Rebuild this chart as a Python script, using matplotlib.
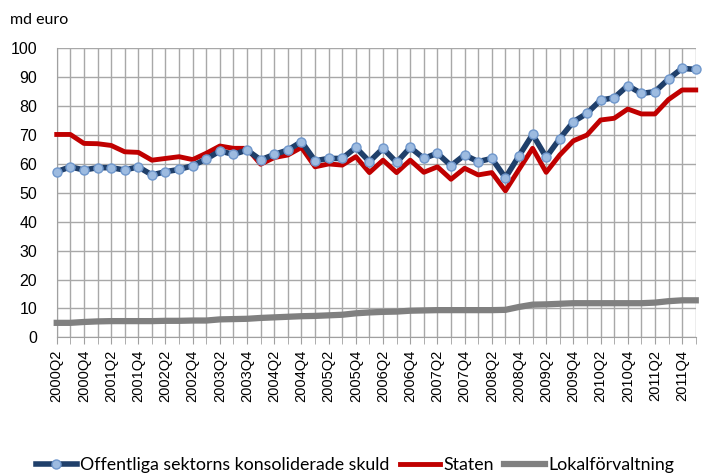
import numpy as np
import matplotlib
matplotlib.use('Agg')
import matplotlib.pyplot as plt

plt.rcParams['font.family'] = ['Liberation Sans', 'DejaVu Sans']

# quarters 2000Q2 .. 2012Q1
quarters = [f'{y}Q{q}' for y in range(2000, 2013) for q in range(1, 5)][1:49]

offentliga = [57.3, 59.0, 57.9, 58.7, 58.7, 57.9, 59.0, 56.2, 57.3, 58.1,
              59.4, 61.7, 64.5, 63.3, 64.8, 61.4, 63.3, 64.8, 67.7, 61.1,
              61.9, 61.9, 65.7, 60.8, 65.4, 60.5, 65.7, 61.9, 63.7, 59.4,
              63.1, 60.8, 61.9, 55.2, 62.8, 70.2, 62.3, 68.8, 74.6, 77.5,
              82.1, 82.9, 87.1, 84.4, 85.0, 89.4, 93.1, 92.7]

staten = [70.2, 70.2, 67.1, 67.0, 66.4, 64.2, 64.0, 61.3, 61.9, 62.5,
          61.5, 63.7, 66.2, 65.4, 65.4, 59.9, 62.2, 63.1, 65.7, 59.0,
          60.0, 59.6, 62.5, 57.0, 61.3, 57.0, 61.3, 57.1, 59.0, 54.7,
          58.5, 56.2, 57.0, 50.7, 58.1, 65.4, 57.1, 63.1, 68.0, 70.0,
          75.2, 75.8, 79.0, 77.3, 77.3, 82.3, 85.6, 85.6]

lokal = [5.0, 5.0, 5.3, 5.5, 5.6, 5.6, 5.6, 5.6, 5.7, 5.7,
         5.8, 5.8, 6.2, 6.3, 6.4, 6.7, 6.9, 7.1, 7.3, 7.4,
         7.6, 7.8, 8.3, 8.6, 8.8, 8.9, 9.2, 9.3, 9.4, 9.4,
         9.4, 9.4, 9.4, 9.5, 10.5, 11.3, 11.4, 11.6, 11.8, 11.8,
         11.8, 11.8, 11.8, 11.8, 12.0, 12.5, 12.8, 12.8]

x = np.arange(len(quarters))

fig = plt.figure(figsize=(7.18, 4.76), dpi=100)
ax = fig.add_axes([0.079, 0.2914, 0.890, 0.607])

ax.plot(x, offentliga, color='#1f3f6a', lw=4, marker='o', ms=6.5,
        mfc='#9dbbe0', mec='#6f97cc', mew=1, clip_on=False,
        label='Offentliga sektorns konsoliderade skuld', zorder=5)
ax.plot(x, staten, color='#c00000', lw=3.5, label='Staten', zorder=4,
        clip_on=False)
ax.plot(x, lokal, color='#808080', lw=4.5, label='Lokalförvaltning', zorder=3,
        clip_on=False)

ax.set_xlim(0, len(quarters) - 1)
ax.set_ylim(0, 100)
ax.set_yticks(range(0, 101, 10))
ax.set_xticks(x, minor=True)
ax.set_xticks(x[::2])
ax.set_xticklabels(quarters[::2], rotation=90, fontsize=10.5)
ax.tick_params(axis='y', labelsize=11.5, length=0, pad=14)
ax.tick_params(axis='x', which='both', length=5, color='#a0a0a0', pad=4)

ax.grid(True, which='both', color='#a8a8a8', lw=1)
ax.set_axisbelow(True)
for s in ['top', 'right']:
    ax.spines[s].set_visible(False)
for s in ['left', 'bottom']:
    ax.spines[s].set_color('#a0a0a0')

fig.text(0.014, 0.958, 'md euro', fontsize=11.5, family=['Lato', 'DejaVu Sans'],
         va='center')

fig.legend(loc='center left', ncol=3, frameon=False,
           prop={'family': ['Lato', 'DejaVu Sans'], 'size': 12.8},
           bbox_to_anchor=(36 / 718, 0.023), borderpad=0, borderaxespad=0,
           handlelength=2.3, columnspacing=0.6, handletextpad=0.15)

plt.savefig('out.png', dpi=100)
